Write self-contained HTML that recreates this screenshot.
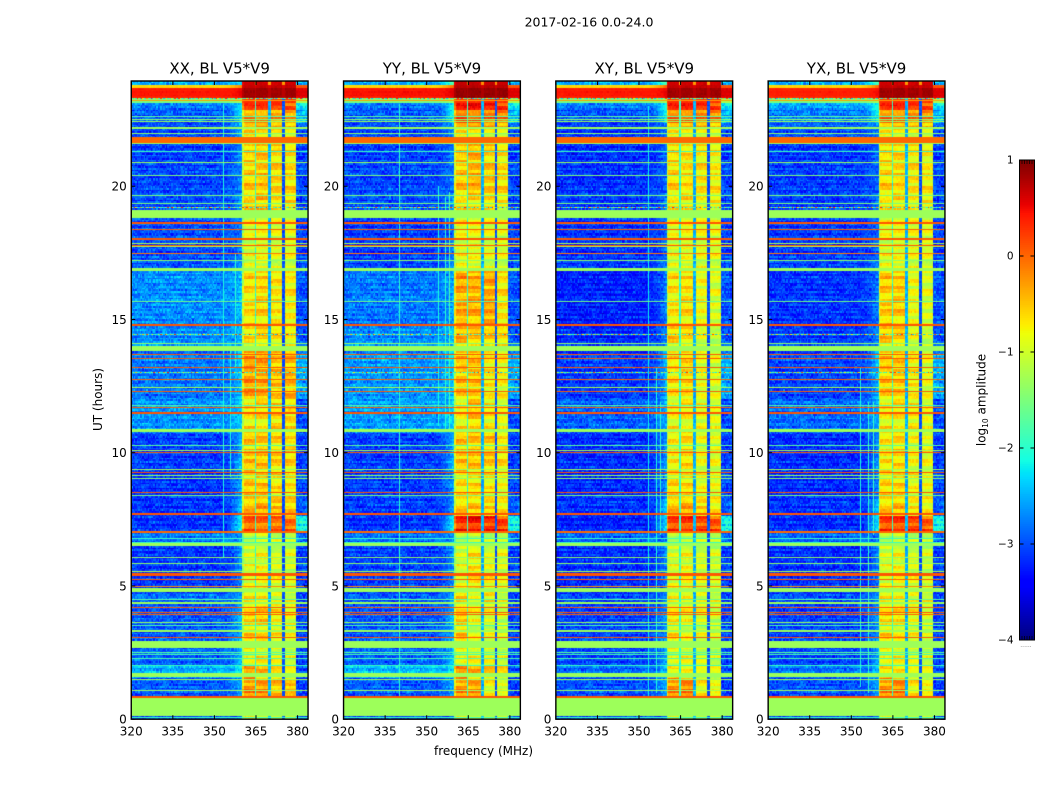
<!DOCTYPE html>
<html lang="en">
<head>
<meta charset="utf-8">
<title>2017-02-16 0.0-24.0</title>
<style>
html,body{margin:0;padding:0;background:#fff;width:1050px;height:800px;overflow:hidden}
#figure{position:relative;width:1050px;height:800px;background:#fff}
canvas{position:absolute;display:block}
svg{position:absolute;left:0;top:0}
text{font-family:"DejaVu Sans","Liberation Sans",sans-serif;fill:#000}
</style>
</head>
<body>
<div id="figure">
<canvas id="heat0"></canvas>
<canvas id="heat1"></canvas>
<canvas id="heat2"></canvas>
<canvas id="heat3"></canvas>
<svg id="overlay" width="1050" height="800" viewBox="0 0 1050 800">
  <text x="589" y="26.5" text-anchor="middle" font-size="12.5">2017-02-16 0.0-24.0</text>
  <text transform="translate(102,399.5) rotate(-90)" text-anchor="middle" font-size="12">UT (hours)</text>
  <text x="483.5" y="755" text-anchor="middle" font-size="12">frequency (MHz)</text>
  <text transform="translate(985.5,400) rotate(-90)" text-anchor="middle" font-size="12">log<tspan font-size="7.5" dy="2.5">10</tspan><tspan dy="-2.5"> amplitude</tspan></text>
  <text x="1026" y="647" text-anchor="middle" font-size="6" fill="#777" style="fill:#777">......</text>
  <g id="colorbar"></g>
  <g id="axes"></g>
</svg>
</div>
<script>
/* ---------- labels and ticks ---------- */
const panelTitles = ['XX, BL V5*V9', 'YY, BL V5*V9', 'XY, BL V5*V9', 'YX, BL V5*V9'];
const freqTicks = [320, 335, 350, 365, 380];
const utTicks = [0, 5, 10, 15, 20];
const colorbarTicks = [1, 0, -1, -2, -3, -4];
const colorbarTickLabels = ['1', '0', '\u22121', '\u22122', '\u22123', '\u22124'];

/* ---------- frequency structure (MHz, log10 amplitude) ---------- */
const bandRanges = [[360.2, 364.5], [365.2, 369.6], [370.3, 374.7], [375.3, 379.5]];
const gapLevels = [-2.0, -2.5, -3.0];

/* ---------- UT segments: upper edge in hours, top of plot downward ---------- */
const segmentTopUT = [23.94, 23.79, 23.68, 23.34, 23.15, 22.85, 22.40, 22.21, 21.61, 19.66, 18.80, 16.81, 14.82, 13.81, 11.97, 10.77, 9.34, 8.22, 7.65, 6.98, 6.49, 4.77, 4.32, 2.66, 2.03, 1.58, 0.79, 0.13];
const rightFloorLevels = [-2.6, 0.1, 0.6, -1.2, -2.3, -2.5, -2.9, -3.0, -3.05, -3.1, -3.05, -3.0, -3.0, -2.55, -3.0, -3.1, -3.05, -2.9, -2.2, -2.9, -3.1, -3.05, -3.05, -3.05, -3.05, -3.1, -1.3, -3.0];

/* XX levels by segment */
const floorXX = [-2.6, -0.6, 0.42, -1.5, -2.8, -2.95, -3.0, -3.05, -3.05, -3.05, -3.0, -2.7, -2.7, -2.8, -2.65, -3.1, -3.15, -3.15, -3.15, -2.8, -3.15, -2.85, -2.95, -2.9, -2.55, -2.95, -1.3, -3.0];
const shoulderXX = [-2.2, -0.1, 0.55, -1.2, -2.2, -2.2, -2.3, -2.4, -2.6, -2.6, -2.7, -2.4, -2.4, -2.3, -2.3, -2.4, -2.4, -2.3, -1.9, -2.6, -2.6, -2.6, -2.4, -2.4, -2.2, -2.5, -1.3, -2.9];
const band1XX = [0.65, 0.7, 0.85, 0.3, 0.35, -0.1, -0.2, -0.45, -0.4, -0.45, -0.8, -0.5, -0.5, -0.15, -0.55, -0.35, -0.4, -0.25, 0.2, -0.95, -0.75, -0.55, -0.45, -0.7, -0.25, -0.1, -1.3, -0.7];
const band2XX = [0.65, 0.7, 0.85, 0.3, 0.3, -0.1, -0.15, -0.5, -0.35, -0.4, -0.7, -0.45, -0.4, -0.2, -0.5, -0.35, -0.35, -0.25, 0.15, -0.9, -0.7, -0.6, -0.4, -0.6, -0.3, -0.15, -1.3, -0.6];
const band3XX = [0.65, 0.7, 0.85, 0.3, 0.25, -0.15, -0.35, -0.6, -0.45, -0.6, -0.8, -0.55, -0.5, -0.35, -0.45, -0.45, -0.5, -0.35, 0.1, -0.9, -0.8, -0.7, -0.6, -0.7, -0.5, -0.35, -1.3, -0.8];
const band4XX = [0.65, 0.7, 0.85, 0.3, 0.25, -0.2, -0.4, -0.65, -0.5, -0.55, -0.75, -0.6, -0.55, -0.3, -0.5, -0.5, -0.55, -0.45, 0.1, -0.95, -0.85, -0.8, -0.7, -0.8, -0.8, -0.4, -1.3, -1.1];

/* YY levels by segment */
const floorYY = [-2.6, -0.6, 0.45, -1.5, -2.85, -2.95, -3.0, -3.05, -3.05, -3.05, -3.1, -2.8, -2.7, -2.65, -2.6, -3.1, -3.1, -3.1, -3.15, -2.85, -3.1, -2.95, -2.95, -2.9, -2.5, -2.95, -1.3, -3.0];
const shoulderYY = [-1.5, 0.1, 0.6, -1.2, -2.0, -2.0, -2.4, -2.6, -2.7, -2.6, -2.7, -2.5, -2.3, -2.3, -2.3, -2.4, -2.5, -2.6, -1.9, -2.6, -2.6, -2.5, -2.4, -2.3, -2.2, -2.5, -1.3, -2.9];
const band1YY = [0.7, 0.75, 0.9, 0.3, 0.5, 0.2, -0.1, -0.55, -0.35, -0.55, -0.7, -0.2, -0.25, -0.35, -0.6, -0.35, -0.55, -0.35, 0.45, -1.0, -0.75, -0.45, -0.4, -0.7, -0.15, -0.15, -1.3, -0.8];
const band2YY = [0.7, 0.75, 0.9, 0.3, 0.5, 0.15, -0.15, -0.6, -0.25, -0.6, -0.7, -0.25, -0.3, -0.35, -0.35, -0.35, -0.5, -0.4, 0.55, -1.0, -0.55, -0.8, -0.75, -0.65, -0.25, -0.2, -1.3, -0.7];
const band3YY = [0.7, 0.75, 0.9, 0.3, 0.45, 0.1, -0.2, -0.7, -0.4, -0.6, -0.8, -0.2, -0.35, -0.6, -0.6, -0.4, -0.6, -0.5, 0.4, -1.0, -0.7, -0.45, -0.8, -0.7, -0.35, -0.7, -1.3, -0.9];
const band4YY = [0.7, 0.75, 0.9, 0.3, 0.4, 0.05, -0.3, -0.7, -0.5, -0.65, -0.8, -0.55, -0.45, -0.65, -0.75, -0.55, -0.7, -0.6, 0.35, -1.0, -0.8, -0.8, -0.9, -0.8, -0.6, -0.85, -1.3, -1.1];

/* XY levels by segment */
const floorXY = [-2.6, -0.6, 0.42, -1.5, -2.8, -3.0, -3.1, -3.15, -3.15, -3.15, -3.15, -3.25, -3.2, -3.1, -2.9, -3.2, -3.2, -3.15, -3.25, -2.9, -3.2, -3.05, -3.05, -3.05, -2.9, -3.0, -1.3, -3.0];
const shoulderXY = [-1.6, 0.1, 0.55, -1.2, -2.0, -2.1, -2.7, -2.8, -2.8, -2.8, -2.8, -2.7, -2.6, -2.4, -2.5, -2.6, -2.6, -2.3, -2.1, -2.8, -2.7, -2.7, -2.6, -2.5, -2.4, -2.5, -1.3, -2.9];
const band1XY = [0.65, 0.7, 0.85, 0.3, 0.45, 0.1, -0.25, -0.6, -0.45, -0.6, -0.75, -0.55, -0.4, -0.55, -0.65, -0.6, -0.5, -0.25, 0.35, -1.0, -0.75, -0.65, -0.55, -0.75, -0.7, -0.1, -1.3, -0.8];
const band2XY = [0.65, 0.7, 0.85, 0.3, 0.4, 0.1, -0.3, -0.65, -0.5, -0.6, -0.7, -0.5, -0.45, -0.5, -0.6, -0.5, -0.5, -0.25, 0.4, -1.0, -0.7, -0.7, -0.7, -0.7, -0.7, -0.05, -1.3, -0.8];
const band3XY = [0.65, 0.7, 0.85, 0.3, 0.35, 0.05, -0.3, -0.7, -0.55, -0.75, -0.75, -0.7, -0.7, -0.75, -0.7, -0.75, -0.7, -0.5, 0.3, -1.0, -0.8, -0.7, -0.8, -0.8, -0.8, -0.65, -1.3, -0.9];
const band4XY = [0.65, 0.7, 0.85, 0.3, 0.35, 0.0, -0.4, -0.75, -0.6, -0.65, -0.75, -0.8, -0.9, -0.8, -0.75, -0.75, -0.7, -0.65, 0.25, -1.0, -0.9, -0.8, -0.9, -0.9, -0.85, -0.75, -1.3, -1.1];

/* YX levels by segment */
const floorYX = [-2.6, -0.6, 0.38, -1.5, -2.6, -2.8, -2.9, -3.0, -3.1, -3.15, -3.1, -3.15, -3.1, -3.05, -2.85, -3.2, -3.2, -3.15, -3.2, -2.9, -3.2, -3.0, -3.05, -3.05, -2.85, -3.0, -1.3, -3.0];
const shoulderYX = [-1.6, 0.1, 0.5, -1.2, -2.0, -2.1, -2.6, -2.8, -2.8, -2.8, -2.8, -2.7, -2.6, -2.3, -2.5, -2.6, -2.6, -2.3, -2.0, -2.8, -2.7, -2.6, -2.6, -2.5, -2.4, -2.5, -1.3, -2.9];
const band1YX = [0.65, 0.7, 0.85, 0.3, 0.4, 0.05, -0.3, -0.6, -0.45, -0.6, -0.75, -0.4, -0.35, -0.4, -0.6, -0.55, -0.5, -0.35, 0.35, -1.0, -0.75, -0.6, -0.5, -0.7, -0.6, -0.1, -1.3, -0.8];
const band2YX = [0.65, 0.7, 0.85, 0.3, 0.35, 0.05, -0.3, -0.65, -0.45, -0.6, -0.7, -0.4, -0.35, -0.4, -0.55, -0.5, -0.45, -0.35, 0.4, -1.0, -0.7, -0.65, -0.55, -0.65, -0.6, -0.05, -1.3, -0.8];
const band3YX = [0.65, 0.7, 0.85, 0.3, 0.3, 0.0, -0.35, -0.7, -0.55, -0.7, -0.75, -0.7, -0.65, -0.6, -0.6, -0.7, -0.65, -0.6, 0.3, -1.0, -0.8, -0.65, -0.7, -0.75, -0.75, -0.6, -1.3, -0.9];
const band4YX = [0.65, 0.7, 0.85, 0.3, 0.3, -0.05, -0.4, -0.75, -0.6, -0.65, -0.75, -0.8, -0.85, -0.75, -0.75, -0.75, -0.7, -0.7, 0.2, -1.0, -0.9, -0.75, -0.85, -0.85, -0.8, -0.7, -1.3, -1.1];

const floorByPanel = [floorXX, floorYY, floorXY, floorYX];
const shoulderByPanel = [shoulderXX, shoulderYY, shoulderXY, shoulderYX];
const bandsByPanel = [
  [band1XX, band2XX, band3XX, band4XX],
  [band1YY, band2YY, band3YY, band4YY],
  [band1XY, band2XY, band3XY, band4XY],
  [band1YX, band2YX, band3YX, band4YX]
];

/* ---------- broadband interference lines: UT top, UT bottom, log10 amplitude ---------- */
const rfiLines = [
  [23.24, 23.19, -0.3], [22.63, 22.59, -1.7], [22.51, 22.47, -1.4], [22.44, 22.40, -1.3], [22.23, 22.16, -1.3],
  [21.99, 21.95, -1.4], [21.84, 21.61, 0.0], [21.61, 21.57, -1.3], [21.31, 21.27, -1.9], [20.90, 20.86, -1.3],
  [20.41, 20.37, -1.5], [19.66, 19.62, -1.5], [19.36, 19.32, -1.5], [19.10, 18.80, -1.3], [18.65, 18.60, 0.1],
  [18.39, 18.35, 0.05], [18.05, 18.00, 0.1], [17.86, 17.82, -1.2], [17.81, 17.77, 0.1], [17.75, 17.71, -1.2],
  [17.49, 17.45, -0.1], [17.22, 17.18, -1.4], [16.92, 16.81, -1.3], [15.68, 15.64, -1.6], [14.82, 14.77, 0.1],
  [14.11, 14.07, -1.4], [14.00, 13.81, -1.3], [13.70, 13.66, 0.1], [13.55, 13.51, 0.1], [13.21, 13.16, 0.1],
  [12.76, 12.72, 0.05], [12.46, 12.42, -1.2], [12.31, 12.27, 0.05], [11.78, 11.74, -1.8], [11.71, 11.67, 0.05],
  [11.52, 11.47, 0.1], [10.88, 10.77, -1.3], [10.28, 10.24, -1.7], [10.09, 10.05, -1.3], [10.02, 9.97, 0.1],
  [9.38, 9.34, -1.3], [9.27, 9.23, 0.1], [9.16, 9.12, -1.3], [9.04, 9.00, -1.4], [8.52, 8.47, 0.1],
  [8.41, 8.37, -1.5], [7.73, 7.68, 0.1], [7.05, 6.98, 0.0], [6.79, 6.75, -1.9], [6.64, 6.60, -1.9],
  [6.60, 6.49, -1.3], [6.08, 6.04, -1.4], [5.85, 5.81, -1.4], [5.55, 5.51, -1.2], [5.48, 5.37, 0.1],
  [5.25, 5.21, 0.05], [4.99, 4.95, -0.2], [4.92, 4.77, -1.3], [4.50, 4.46, -1.7], [4.39, 4.32, -1.3],
  [4.20, 4.16, 0.1], [4.01, 3.97, 0.1], [3.94, 3.90, 0.05], [3.64, 3.60, -1.3], [3.53, 3.49, -1.8],
  [3.34, 3.26, -1.3], [3.08, 3.04, 0.1], [2.93, 2.66, -1.3], [2.51, 2.47, -1.7], [2.44, 2.40, -1.8],
  [2.29, 2.25, -1.8], [2.03, 1.99, -1.9], [1.73, 1.58, -1.3], [1.50, 1.46, -1.3], [1.09, 1.05, -1.3],
  [0.86, 0.79, 0.1], [0.08, 0.05, -1.9]
];

/* ---------- intermittent narrow-band rows: UT ---------- */
const speckleRowsUT = [23.32, 19.21, 14.45, 13.02];
const speckleRowLevels = [-1.6, -2.2, -0.9, -2.1, 0.25, -1.4, -2.4, 0.3, -0.8, -1.9, -2.3, -0.3, -1.5, -2.0, 0.4, -2.4, -1.1, -2.2, -0.5, -1.7, -2.1, 0.2, -1.3, -2.4, -1.8, -0.7, -2.0];

/* ---------- narrow vertical channels: MHz, level, UT top, UT bottom ---------- */
const verticalXX = [[353.2, -2.1, 23.1, 6.1], [355.7, -2.1, 14.0, 9.1], [357.6, -2.0, 17.5, 13.2]];
const verticalYY = [[340.0, -2.0, 23.1, 0.85], [354.2, -2.1, 20.0, 11.0], [356.5, -2.0, 19.6, 10.9], [358.2, -1.8, 19.8, 10.8]];
const verticalXY = [[353.3, -2.2, 23.0, 0.85], [356.0, -2.1, 13.2, 1.0], [357.6, -2.0, 11.9, 6.9]];
const verticalYX = [[353.2, -2.1, 13.2, 1.2], [356.0, -2.0, 11.9, 1.0], [358.0, -1.9, 11.9, 6.9]];
const verticalsByPanel = [verticalXX, verticalYY, verticalXY, verticalYX];

/* ---------- short typed texture tables (estimated amplitudes of cell-to-cell speckle, not read cell by cell) ---------- */
const speckleA = [0.12, -0.31, 0.27, -0.08, 0.38, -0.22, 0.05, -0.36, 0.19, 0.31, -0.14, -0.27, 0.09, 0.42, -0.18, 0.02, -0.39, 0.24, -0.05, 0.33, -0.29, 0.16, -0.11, 0.07, -0.34, 0.29, 0.14, -0.21, 0.36, -0.02, -0.25, 0.21, -0.41, 0.11, 0.26, -0.16, 0.03, -0.32, 0.4, -0.09, 0.18, -0.24, 0.34, -0.13, -0.37, 0.08, 0.23, -0.19, 0.3, -0.06, -0.28, 0.15, 0.01, -0.35, 0.37, -0.12, 0.2, -0.23, 0.06, 0.28, -0.3];
const speckleB = [-0.18, 0.22, -0.05, 0.3, -0.26, 0.11, 0.35, -0.12, -0.33, 0.17, 0.04, -0.22, 0.28, -0.08, 0.39, -0.3, 0.13, -0.16, 0.24, -0.02, -0.37, 0.19, 0.07, -0.25, 0.33, -0.1, 0.15, -0.29, 0.26, 0.02, -0.2, 0.36, -0.14, -0.04, 0.21, -0.34, 0.09, 0.29, -0.17, 0.12, -0.27, 0.31, -0.07, 0.18, -0.38, 0.25, -0.11, 0.05, 0.34, -0.23, 0.14, -0.31, 0.1];
const rowRipple = [0.1, -0.15, 0.22, -0.05, -0.24, 0.14, 0.03, 0.2, -0.18, -0.08, 0.25, -0.22, 0.06, 0.16, -0.12, -0.26, 0.19, 0.02, -0.1, 0.23, -0.2, 0.11, -0.02, 0.17, -0.28, 0.08, 0.13, -0.16, 0.21, -0.07, -0.19, 0.26, -0.04, 0.12, -0.23, 0.05, 0.18, -0.13, -0.21, 0.15, 0.0];
const bandRipple = [0.18, 0.05, -0.22, -0.3, 0.12, 0.26, -0.1, -0.18, 0.3, 0.08, -0.28, 0.0, 0.22, -0.14, -0.05, 0.28, -0.24, 0.1, 0.16, -0.32, 0.04, 0.24, -0.08, -0.2, 0.14, 0.3, -0.16, -0.26, 0.06, 0.2, -0.12];

/* ---------- axis functions ---------- */
const FREQ_MIN = 320, FREQ_PER_PX = 1 / 2.772, CHANNEL_MHZ = 0.5, ROW_HOURS = 0.0625, BAND_BIAS = -0.15;
function panelLeft(i) { return 131.25 + i * 212.3; }
function xScale(i, f) { return panelLeft(i) + (f - FREQ_MIN) / FREQ_PER_PX; }
function yScale(ut) { return 719.2 - ut * 26.65; }
function colorScale(v) { return 640 - (v + 4) * 96; }

/* ---------- jet colormap ---------- */
function piece(t, xs, ys) {
  for (let k = 1; k < xs.length; k++) {
    if (t <= xs[k]) return ys[k - 1] + (ys[k] - ys[k - 1]) * (t - xs[k - 1]) / (xs[k] - xs[k - 1]);
  }
  return ys[ys.length - 1];
}
function jet(t) {
  t = Math.min(1, Math.max(0, t));
  const r = piece(t, [0, 0.35, 0.66, 0.89, 1], [0, 0, 1, 1, 0.5]);
  const g = piece(t, [0, 0.125, 0.375, 0.64, 0.91, 1], [0, 0, 1, 1, 0, 0]);
  const b = piece(t, [0, 0.11, 0.34, 0.65, 1], [0.5, 1, 1, 0, 0]);
  return 'rgb(' + Math.round(r * 255) + ',' + Math.round(g * 255) + ',' + Math.round(b * 255) + ')';
}
const lut = [];
for (let k = 0; k < 256; k++) lut.push(jet(k / 255));
function colorOf(v) {
  const idx = Math.round((v + 4) / 5 * 255);
  return lut[Math.min(255, Math.max(0, idx))];
}

/* ---------- heatmap value model ---------- */
function segmentOf(ut) {
  let s = 0;
  for (let k = 0; k < segmentTopUT.length; k++) { if (ut <= segmentTopUT[k]) s = k; }
  return s;
}
function cellValue(p, f, ut, c, r) {
  const s = segmentOf(ut);
  const floor = floorByPanel[p][s];
  const bands = bandsByPanel[p];
  const noise = speckleA[(c * 3 + r * 11) % speckleA.length] + speckleB[(c * 17 + r * 5) % speckleB.length];
  if (s === 26) return -1.3;
  const centre = f + CHANNEL_MHZ / 2;
  for (let b = 0; b < bandRanges.length; b++) {
    if (centre >= bandRanges[b][0] && centre < bandRanges[b][1]) {
      let v = bands[b][s];
      const quiet = s <= 3;
      if (b === 0 && centre - bandRanges[b][0] < CHANNEL_MHZ) v -= quiet ? 0.1 : 0.4;
      if (quiet) return v + noise * 0.1;
      return v + BAND_BIAS + noise * 0.22 + bandRipple[(Math.floor(r / 2) + b * 7) % bandRipple.length];
    }
    if (b < gapLevels.length && centre >= bandRanges[b][1] && centre < bandRanges[b + 1][0]) {
      if (s <= 2) return bands[b][s] - (s === 0 ? 0.9 : 0.1);
      return gapLevels[b] + noise * 0.3;
    }
  }
  const smooth = floor > -1.6 ? 0.08 : 0.55;
  const streak = rowRipple[r % rowRipple.length] * (floor > -1.6 ? 0.15 : 0.55);
  if (centre >= bandRanges[3][1]) return rightFloorLevels[s] + noise * smooth + streak;
  const rampStart = 352.5, rampEnd = bandRanges[0][0];
  if (centre > rampStart) {
    const u = (centre - rampStart) / (rampEnd - rampStart);
    return floor + (shoulderByPanel[p][s] - floor) * u * u + noise * smooth * 0.8 + streak * 0.6;
  }
  return floor + noise * smooth + streak;
}

/* ---------- draw heatmaps ---------- */
function drawPanel(p) {
  const canvas = document.getElementById('heat' + p);
  const left = Math.round(panelLeft(p));
  const right = Math.round(xScale(p, 383.8));
  const top = Math.round(yScale(segmentTopUT[0]));
  const bottom = Math.round(yScale(0));
  canvas.width = right - left;
  canvas.height = bottom - top;
  canvas.style.left = left + 'px';
  canvas.style.top = top + 'px';
  canvas.style.width = (right - left) + 'px';
  canvas.style.height = (bottom - top) + 'px';
  const ctx = canvas.getContext('2d');
  const rows = Math.ceil(segmentTopUT[0] / ROW_HOURS);
  const channels = Math.ceil((383.8 - FREQ_MIN) / CHANNEL_MHZ);
  for (let r = 0; r < rows; r++) {
    const utLow = r * ROW_HOURS;
    const y1 = Math.round(yScale(utLow)) - top;
    const y0 = Math.round(yScale(utLow + ROW_HOURS)) - top;
    for (let c = 0; c < channels; c++) {
      const f = FREQ_MIN + c * CHANNEL_MHZ;
      const x0 = Math.round(xScale(p, f)) - left;
      const x1 = Math.round(xScale(p, f + CHANNEL_MHZ)) - left;
      ctx.fillStyle = colorOf(cellValue(p, f, utLow + ROW_HOURS / 2, c, r));
      ctx.fillRect(x0, y0, x1 - x0, y1 - y0);
    }
  }
  verticalsByPanel[p].forEach(function (line) {
    const x = Math.round(xScale(p, line[0])) - left;
    const y0 = Math.round(yScale(line[2])) - top;
    const y1 = Math.round(yScale(line[3])) - top;
    ctx.fillStyle = colorOf(line[1]);
    ctx.fillRect(x, y0, 1, y1 - y0);
  });
  rfiLines.forEach(function (line) {
    const y0 = Math.round(yScale(line[0])) - top;
    const y1 = Math.round(yScale(line[1])) - top;
    ctx.fillStyle = colorOf(line[2]);
    ctx.fillRect(0, y0, right - left, Math.max(1, y1 - y0));
  });
  speckleRowsUT.forEach(function (ut, n) {
    const y0 = Math.round(yScale(ut)) - top;
    for (let c = 0; c < channels; c++) {
      const f = FREQ_MIN + c * CHANNEL_MHZ;
      const x0 = Math.round(xScale(p, f)) - left;
      const x1 = Math.round(xScale(p, f + CHANNEL_MHZ)) - left;
      const v = speckleRowLevels[(c + n * 5 + p * 3) % speckleRowLevels.length];
      ctx.fillStyle = colorOf(v);
      ctx.fillRect(x0, y0, x1 - x0, 1);
    }
  });
}

/* ---------- overlay helpers ---------- */
const SVG_NS = 'http://www.w3.org/2000/svg';
function svgEl(tag, attrs, parent) {
  const el = document.createElementNS(SVG_NS, tag);
  Object.keys(attrs).forEach(function (k) { el.setAttribute(k, attrs[k]); });
  parent.appendChild(el);
  return el;
}

/* ---------- axes ---------- */
function drawAxes(p) {
  const root = document.getElementById('axes');
  const g = svgEl('g', {}, root);
  
  
  const L = panelLeft(p), R = L + 176.8, T = 81, B = 719.2;
  const frame = svgEl('rect', { x: L, y: T, width: R - L, height: B - T, fill: 'none', stroke: '#000', 'stroke-width': 1.4 }, g);
  
  
  const title = svgEl('text', { x: (L + R) / 2, y: 73.5, 'text-anchor': 'middle', 'font-size': 15 }, g);
  title.textContent = panelTitles[p];
  
  
  freqTicks.forEach(function (f) {
    const x = xScale(p, f);
    const tickBottom = svgEl('line', { x1: x, x2: x, y1: B, y2: B - 4, stroke: '#000', 'stroke-width': 1 }, g);
    
    
    const tickTop = svgEl('line', { x1: x, x2: x, y1: T, y2: T + 4, stroke: '#000', 'stroke-width': 1 }, g);
    
    
    const label = svgEl('text', { x: x, y: 735.5, 'text-anchor': 'middle', 'font-size': 12 }, g);
    label.textContent = String(f);
    
    
  });
  utTicks.forEach(function (u) {
    const y = yScale(u);
    const tickLeft = svgEl('line', { x1: L, x2: L + 4, y1: y, y2: y, stroke: '#000', 'stroke-width': 1 }, g);
    
    
    const tickRight = svgEl('line', { x1: R, x2: R - 4, y1: y, y2: y, stroke: '#000', 'stroke-width': 1 }, g);
    
    
    const label = svgEl('text', { x: L - 4.5, y: y + 4.5, 'text-anchor': 'end', 'font-size': 12 }, g);
    label.textContent = String(u);
    
    
  });
}

/* ---------- colorbar ---------- */
function drawColorbar() {
  const g = document.getElementById('colorbar');
  const x0 = 1019.5, x1 = 1034.5;
  for (let k = 0; k < 256; k++) {
    const low = -4 + k / 256 * 5, high = -4 + (k + 1) / 256 * 5;
    const yTop = colorScale(high), yBot = colorScale(low);
    const swatch = svgEl('rect', { x: x0, y: yTop, width: x1 - x0, height: yBot - yTop + 0.4, fill: lut[k] }, g);
    
    
  }
  const frame = svgEl('rect', { x: x0, y: colorScale(1), width: x1 - x0, height: colorScale(-4) - colorScale(1), fill: 'none', stroke: '#000', 'stroke-width': 1 }, g);
  
  
  colorbarTicks.forEach(function (v, n) {
    const y = colorScale(v);
    const tickA = svgEl('line', { x1: x0, x2: x0 + 4, y1: y, y2: y, stroke: '#000', 'stroke-width': 1 }, g);
    
    
    const tickB = svgEl('line', { x1: x1, x2: x1 - 4, y1: y, y2: y, stroke: '#000', 'stroke-width': 1 }, g);
    
    
    const label = svgEl('text', { x: 1013.5, y: y + 3.5, 'text-anchor': 'end', 'font-size': 10.5 }, g);
    label.textContent = colorbarTickLabels[n];
    
    
  });
  for (let k = 1; k < 6; k++) {
    const x = x0 + k * (x1 - x0) / 6;
    const stubTop = svgEl('line', { x1: x, x2: x, y1: colorScale(1), y2: colorScale(1) + 4, stroke: '#000', 'stroke-width': 0.7 }, g);
    
    
    const stubBottom = svgEl('line', { x1: x, x2: x, y1: colorScale(-4), y2: colorScale(-4) - 4, stroke: '#000', 'stroke-width': 0.7 }, g);
    
    
  }
}

for (let p = 0; p < panelTitles.length; p++) {
  drawPanel(p);
  drawAxes(p);
}
drawColorbar();
</script>
</body>
</html>
